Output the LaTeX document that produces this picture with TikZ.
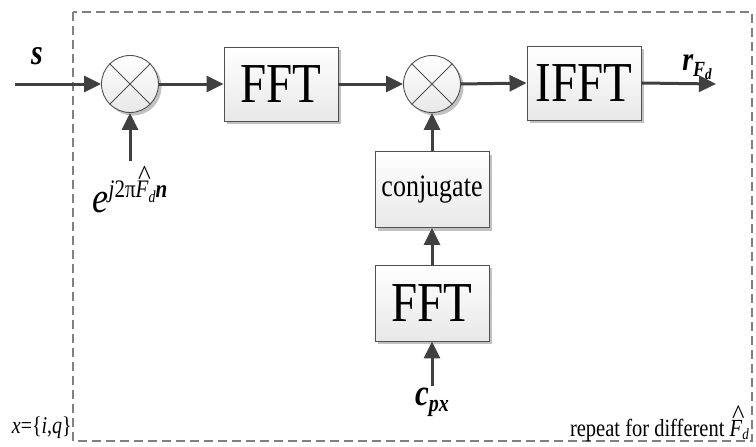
\documentclass[tikz,border=0pt]{standalone}
\usepackage{fontspec}
\setmainfont{Liberation Serif}
\usetikzlibrary{arrows.meta,shadows}
\definecolor{arr}{HTML}{404040}
\definecolor{frame}{HTML}{505050}
\newcommand{\st}[1]{\scalebox{1}[1.2]{#1}}
\newcommand{\hatF}{\makebox[0pt][l]{\kern0.12em\raisebox{0.5em}{\upshape\scalebox{1.3}[1.1]{\char"005E}}}\textit{F}}
\begin{document}
\begin{tikzpicture}[x=1pt,y=-1pt,
  shade/.style={top color=white,bottom color=black!9,
    drop shadow={shadow xshift=3pt,shadow yshift=-3pt,fill=black!30,opacity=0.8}},
  blk/.style={shade,draw=frame,line width=0.9pt,inner sep=0pt,
    minimum width=114pt,minimum height=74pt},
  mult/.style={shade,draw=frame,line width=0.9pt,circle,inner sep=0pt,minimum size=57pt},
  big/.style={font=\fontsize{47}{47}\selectfont},
  conn/.style={draw=arr,line width=3pt,-{Triangle[length=17pt,width=16pt]}},
  lbl/.style={inner sep=0pt}]
\useasboundingbox (0,0) rectangle (756,447);
\draw[black!50,line width=1.3pt,dash pattern=on 9pt off 5pt] (73,12) rectangle (752,441);

\node[mult] (m1) at (130,84) {};
\draw[frame,line width=0.9pt] (m1.north west) -- (m1.south east) (m1.north east) -- (m1.south west);
\node[blk,big] (fft1) at (281,84) {\st{FFT}};
\node[mult] (m2) at (432,84) {};
\draw[frame,line width=0.9pt] (m2.north west) -- (m2.south east) (m2.north east) -- (m2.south west);
\node[blk,big] (ifft) at (584,83) {\st{IFFT}};
\node[blk,minimum height=76pt,font=\fontsize{26}{26}\selectfont] (conj) at (432,189.5) {\st{conjugate}};
\node[blk,big,minimum height=76pt] (fft2) at (432,303) {\st{FFT}};

\coordinate (sin) at (15,84);
\coordinate (rout) at (716,84);
\coordinate (ein) at (130,161);
\coordinate (cin) at (432,386);

\draw[conn] (sin) -- (m1.west);
\draw[conn] (m1.east) -- (fft1.west);
\draw[conn] (fft1.east) -- (m2.west);
\draw[conn] (m2.east) -- (ifft.west);
\draw[conn] (ifft.east) -- (rout);
\draw[conn] (ein) -- (m1.south);
\draw[conn] (conj.north) -- (m2.south);
\draw[conn] (fft2.north) -- (conj.south);
\draw[conn] (cin) -- (fft2.south);

\node[lbl,font=\fontsize{30}{30}\selectfont\bfseries\itshape] (slbl) at (37,56) {\st{s}};
\node[lbl] (elbl) at (130,190) {\st{\fontsize{36}{36}\selectfont\itshape e\raisebox{13pt}{\fontsize{21}{21}\selectfont\itshape j\upshape 2π\hatF\raisebox{-4pt}{\fontsize{14}{14}\selectfont\itshape d}\bfseries\itshape n}}};
\node[lbl] (rlbl) at (697,67) {\st{\fontsize{28}{28}\selectfont\bfseries\itshape r\raisebox{-5pt}{\fontsize{18}{18}\selectfont F\raisebox{-3pt}{\fontsize{13}{13}\selectfont d}}}};
\node[lbl] (clbl) at (432,402) {\st{\fontsize{31}{31}\selectfont\bfseries\itshape c\raisebox{-5pt}{\fontsize{20}{20}\selectfont px}}};
\node[lbl,anchor=base east,font=\fontsize{20}{20}\selectfont] (xlbl) at (72,433) {\st{\itshape x\upshape =\{\itshape i\upshape,\itshape q\upshape\}}};
\node[lbl,anchor=base east,font=\fontsize{20.5}{20.5}\selectfont] (rep) at (749,436) {\st{repeat for different \hatF\raisebox{-3pt}{\fontsize{13}{13}\selectfont\itshape d}}};
\end{tikzpicture}
\end{document}
